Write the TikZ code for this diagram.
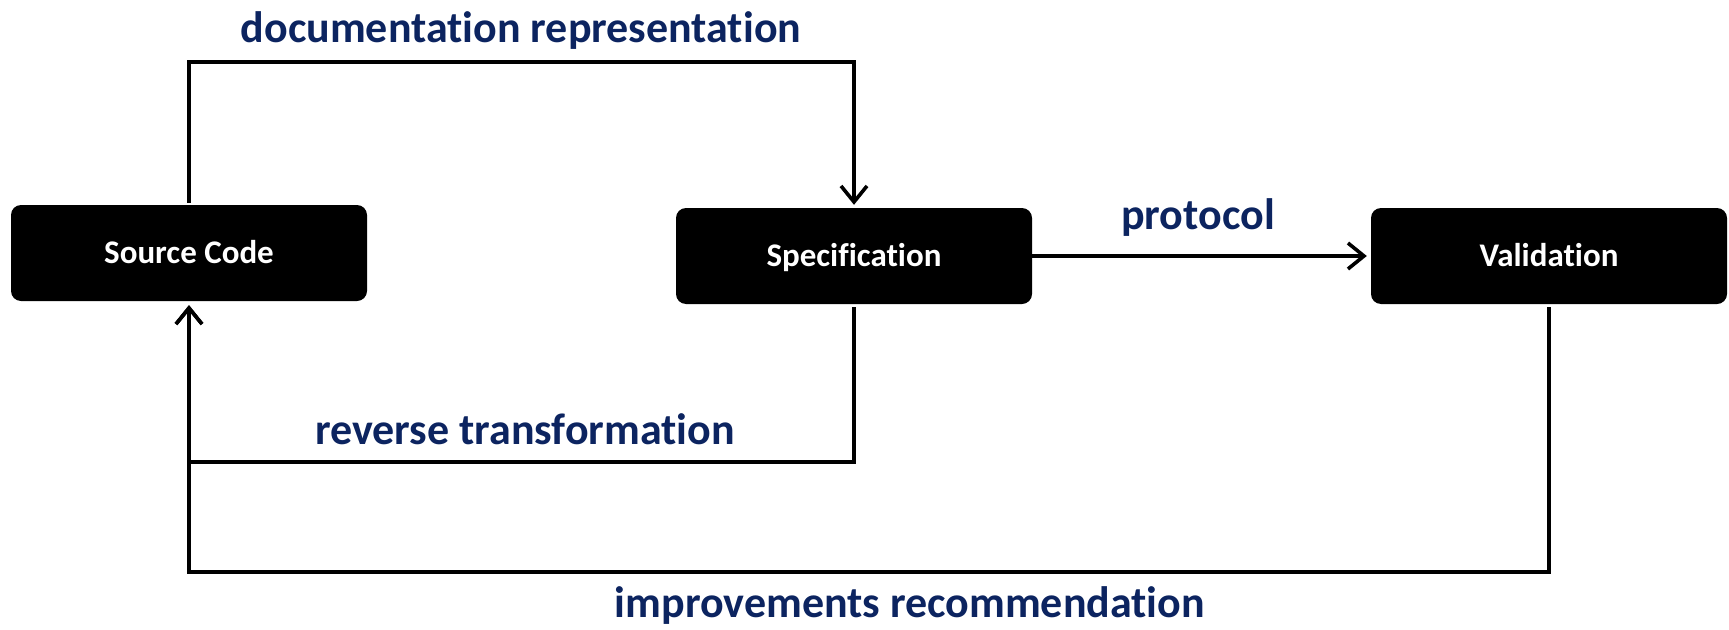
\documentclass[tikz,border=0pt]{standalone}
\usepackage{fontspec}
\setmainfont{Carlito}[Ligatures=NoCommon]
\usetikzlibrary{arrows.meta}
\definecolor{navy}{RGB}{12,36,96}
\tikzset{
  box/.style={fill=black, draw=none, rounded corners=10pt, minimum width=356pt, minimum height=96pt,
    text=white, font=\fontsize{33}{36}\selectfont\bfseries, text height=21pt, text depth=0pt, inner sep=0pt},
  conn/.style={line width=3.6pt, draw=black},
  arr/.style={conn, -{Straight Barb[length=16pt, width=26pt, line width=3.6pt]}},
  lbl/.style={text=navy, font=\fontsize{44}{46}\selectfont\bfseries, anchor=base, inner sep=0pt}
}
\begin{document}
\begin{tikzpicture}[x=1pt,y=-1pt]
\useasboundingbox (0,0) rectangle (1729,629);
\node[box] (src) at (189,253) {Source Code};
\node[box] (spec) at (854,256) {Specification};
\node[box] (val) at (1549,256) {Validation};
\coordinate (top) at (189,62);
\coordinate (rev) at (854,462);
\coordinate (imp) at (1549,572);
\draw[arr, shorten <=2pt, shorten >=3pt] (src.north) -- (top) -| (spec.north);
\draw[arr, shorten >=4pt] (spec.east) -- (val.west);
\draw[arr, shorten <=3pt, shorten >=4pt] (spec.south) -- (rev) -| (src.south);
\draw[arr, shorten <=3pt, shorten >=4pt] (val.south) -- (imp) -| (src.south);
\node[lbl] (ldoc) at (521,42) {documentation representation};
\node[lbl] (lpro) at (1198,229) {protocol};
\node[lbl] (lrev) at (525,444) {reverse transformation};
\node[lbl] (limp) at (910,617) {improvements recommendation};
\end{tikzpicture}
\end{document}
